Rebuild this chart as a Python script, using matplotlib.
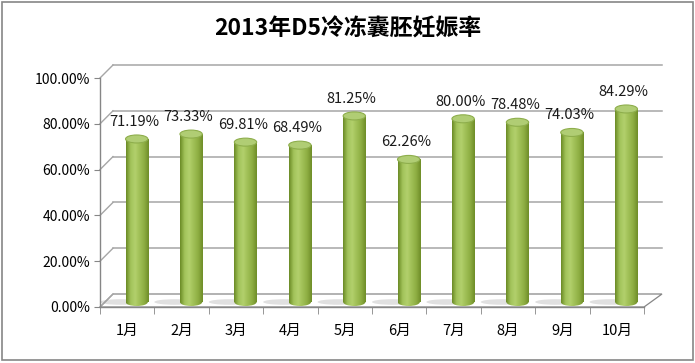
import numpy as np
import matplotlib
matplotlib.use('Agg')
import matplotlib.pyplot as plt
from matplotlib import transforms
from matplotlib.lines import Line2D
from matplotlib.patches import Ellipse, Rectangle, Polygon
from matplotlib.colors import LinearSegmentedColormap
from matplotlib.ticker import PercentFormatter, FixedLocator

plt.rcParams['font.family'] = ['Noto Sans CJK SC', 'DejaVu Sans']

# 数据
title = '2013年D5冷冻囊胚妊娠率'
months = ['1月', '2月', '3月', '4月', '5月', '6月', '7月', '8月', '9月', '10月']
rates = [71.19, 73.33, 69.81, 68.49, 81.25, 62.26, 80.00, 78.48, 74.03, 84.29]
yticks = [0, 20, 40, 60, 80, 100]

DPI = 100
fig = plt.figure(figsize=(6.95, 3.63), dpi=DPI)
ax = fig.add_axes([100/695, 56/363, 544/695, 229/363])
ax.set_xlim(0, len(months))
ax.set_ylim(0, 100)
ax.patch.set_alpha(0)

grid_c = '#a6a6a6'
axis_c = '#868686'
depth = (13, 13)     # 3D depth of back wall in pixels (left side)
depth_r = 18         # x depth on right side (perspective)


def px(x, y, back=False):
    p = ax.transData.transform((x, y))
    if back:
        t = x / len(months)
        p = p + np.array([depth[0] + t * (depth_r - depth[0]), depth[1]])
    return p


ident = transforms.IdentityTransform()
n = len(months)

# floor
fl = [px(0, 0), px(n, 0), px(n, 0, True), px(0, 0, True)]
ax.add_patch(Polygon(fl, closed=True, transform=ident, facecolor='white',
                     edgecolor=axis_c, lw=0.9, zorder=1, clip_on=False))

# back wall gridlines + left diagonals
for yv in yticks:
    a, b = px(0, yv, True), px(n, yv, True)
    if yv > 0:
        ax.add_line(Line2D([a[0], b[0]], [a[1], b[1]], transform=ident,
                           color=grid_c, lw=1.1, zorder=1, clip_on=False))
    f = px(0, yv)
    ax.add_line(Line2D([f[0], a[0]], [f[1], a[1]], transform=ident,
                       color=grid_c, lw=1.0, zorder=1, clip_on=False))

# cylinders
bar_tr = transforms.offset_copy(ax.transData, fig=fig, x=9.5, y=5, units='dots')
lab_tr = transforms.offset_copy(ax.transData, fig=fig, x=7, y=15, units='dots')
cmap = LinearSegmentedColormap.from_list(
    'cyl', ['#6a8a25', '#a2c35a', '#b2d06c', '#a0bf56', '#8dad42', '#6e8d28'])
grad = np.linspace(0, 1, 128).reshape(1, -1)
xs = np.arange(n) + 0.5
w = 0.41
eh = 8 / (ax.transData.transform((0, 1))[1] - ax.transData.transform((0, 0))[1])

for xi, v in zip(xs, rates):
    # shadow on floor
    ax.add_patch(Ellipse((xi - 0.3, 0), 0.75, eh * 0.7, transform=bar_tr,
                         facecolor='#9a9a9a', alpha=0.3, lw=0, zorder=2))
    body = Rectangle((xi - w/2, 0), w, v, transform=bar_tr, lw=0)
    bottom = Ellipse((xi, 0), w, eh, transform=bar_tr, lw=0)
    for clip, ext in [(body, (xi - w/2, xi + w/2, 0, v)),
                      (bottom, (xi - w/2, xi + w/2, -eh/2, eh/2))]:
        ax.add_patch(clip)
        clip.set_visible(False)
        im = ax.imshow(grad, cmap=cmap, extent=ext, aspect='auto',
                       transform=bar_tr, zorder=3, interpolation='bilinear')
        im.set_clip_path(clip)
    ax.add_patch(Ellipse((xi, v), w, eh, transform=bar_tr, facecolor='#b0cd74',
                         edgecolor='#8eae4c', lw=0.8, zorder=4))
    ax.text(xi, v, f'{v:.2f}%', transform=lab_tr, ha='center', va='bottom',
            fontsize=10.5, color='#1a1a1a', zorder=5)

ax.set_xlim(0, n)
ax.set_ylim(0, 100)

# axes
for s in ['top', 'right']:
    ax.spines[s].set_visible(False)
for s in ['left', 'bottom']:
    ax.spines[s].set_color(axis_c)
    ax.spines[s].set_linewidth(1.0)
ax.set_yticks(yticks)
ax.yaxis.set_major_formatter(PercentFormatter(100, decimals=2))
ax.set_xticks(xs)
ax.set_xticklabels(months)
ax.xaxis.set_minor_locator(FixedLocator(np.arange(n + 1)))
ax.tick_params(axis='x', which='major', length=0, pad=12, labelsize=10.5)
ax.tick_params(axis='x', which='minor', length=5, color=axis_c)
ax.tick_params(axis='y', length=4, color=axis_c, labelsize=10, pad=3)

fig.text(0.5, 1 - 29/363, title, ha='center', va='center',
         fontsize=16.5, fontweight='bold')
fig.add_artist(Rectangle((1.5/695, 3/363), 691/695, 358/363,
                         transform=fig.transFigure, fill=False,
                         edgecolor='#868686', lw=1.2))

fig.savefig('out.png', dpi=DPI)
